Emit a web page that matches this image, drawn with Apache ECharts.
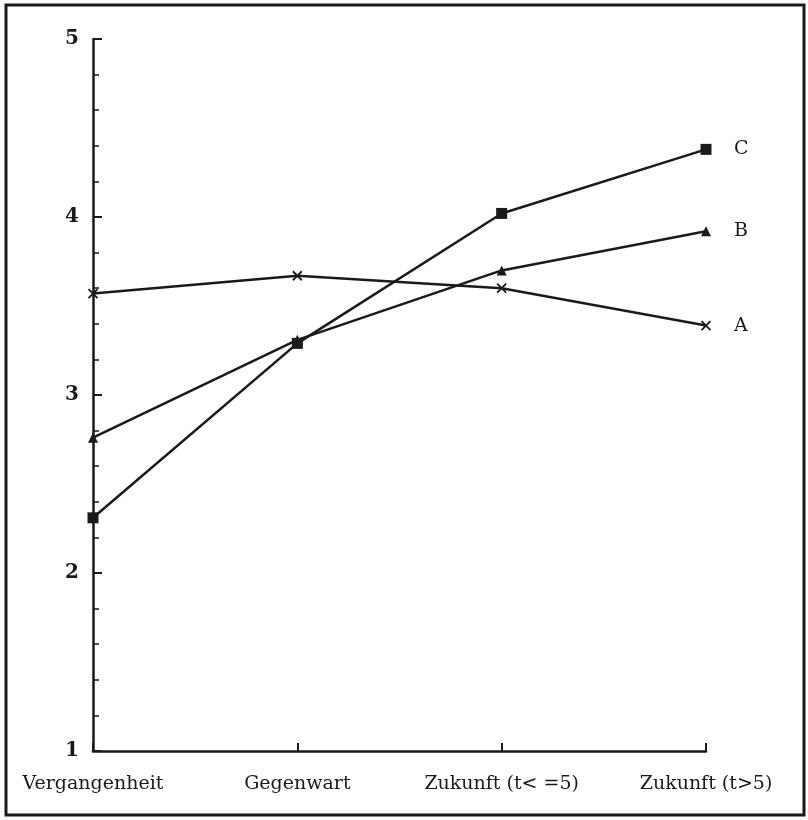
<!DOCTYPE html>
<html>
<head>
<meta charset="utf-8">
<script src="https://cdn.jsdelivr.net/npm/echarts@6/dist/echarts.min.js"></script>
<style>
  html, body { margin: 0; padding: 0; background: #fff; }
  #chart { width: 808px; height: 820px; }
</style>
</head>
<body>
<div id="chart"></div>
<script>
// Kategorien (x-Achse)
const categories = ['Vergangenheit', 'Gegenwart', 'Zukunft (t< =5)', 'Zukunft (t>5)'];
// Werte je Kurve
const seriesA = [3.57, 3.67, 3.60, 3.39];
const seriesB = [2.76, 3.31, 3.70, 3.92];
const seriesC = [2.31, 3.29, 4.02, 4.38];
const yTicks = [1, 2, 3, 4, 5];

const ink = '#1a1a1a';
const serif = 'DejaVu Serif';

const chart = echarts.init(document.getElementById('chart'));

const makeSeries = (name, data, symbol, size) => ({
  name: name,
  type: 'line',
  data: data,
  symbol: symbol,
  symbolSize: size,
  showAllSymbol: true,
  lineStyle: { color: ink, width: 2.5 },
  itemStyle: { color: ink, borderColor: ink, borderWidth: symbol.startsWith('path') ? 1.8 : 0 },
  endLabel: {
    show: true,
    formatter: '{a}',
    distance: 28,
    color: ink,
    fontFamily: serif,
    fontSize: 19
  },
  animation: false
});

const option = {
  animation: false,
  graphic: [{
    type: 'rect',
    shape: { x: 6, y: 5, width: 798, height: 810 },
    style: { fill: 'none', stroke: ink, lineWidth: 3 }
  }],
  grid: { left: 93, right: 102, top: 39, bottom: 69 },
  xAxis: {
    type: 'category',
    data: categories,
    boundaryGap: false,
    axisLine: { lineStyle: { color: ink, width: 2.5 } },
    axisTick: { show: true, inside: true, length: 8, alignWithLabel: true, lineStyle: { color: ink, width: 2 } },
    axisLabel: {
      color: ink,
      fontFamily: serif,
      fontSize: 19,
      margin: 24,
      interval: 0
    },
    splitLine: { show: false }
  },
  yAxis: {
    type: 'value',
    min: yTicks[0],
    max: yTicks[yTicks.length - 1],
    interval: 1,
    axisLine: { show: true, lineStyle: { color: ink, width: 2.5 } },
    axisTick: { show: true, inside: true, length: 9, lineStyle: { color: ink, width: 2 } },
    minorTick: { show: true, splitNumber: 5, length: 6, lineStyle: { color: ink, width: 1.5 } },
    axisLabel: {
      color: ink,
      fontFamily: serif,
      fontWeight: 'bold',
      fontSize: 20,
      margin: 14
    },
    splitLine: { show: false }
  },
  series: [
    makeSeries('A', seriesA, 'path://M0,0L10,10M10,0L0,10', 9),
    makeSeries('B', seriesB, 'triangle', 10),
    makeSeries('C', seriesC, 'rect', 11)
  ]
};

chart.setOption(option);
</script>
</body>
</html>
